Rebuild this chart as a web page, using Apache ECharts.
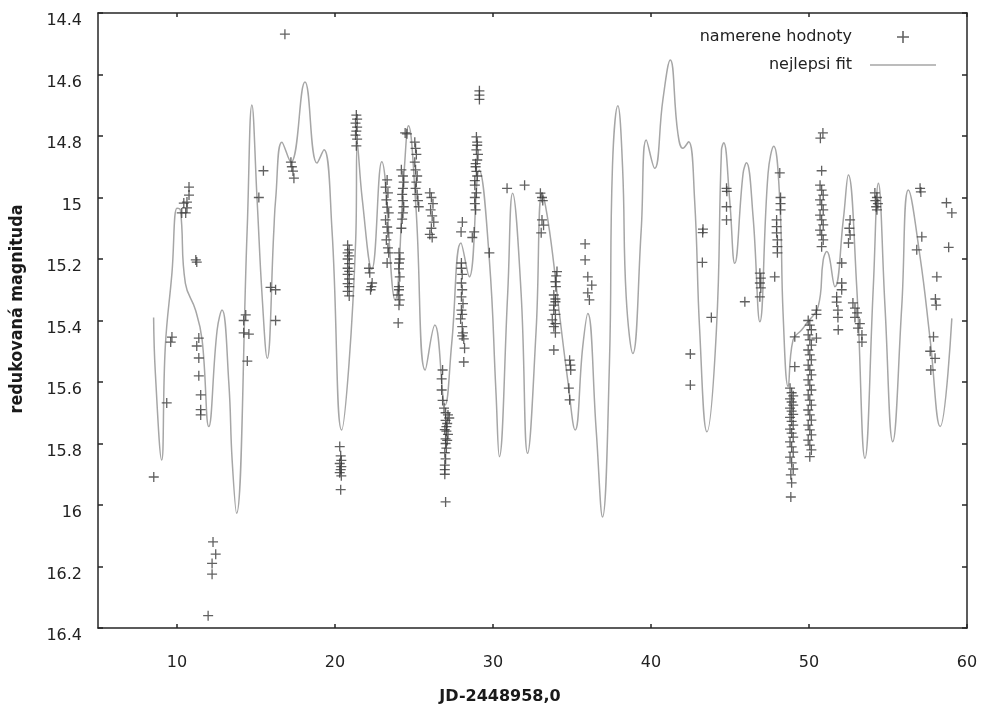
<!DOCTYPE html>
<html><head><meta charset="utf-8">
<script src="https://cdn.jsdelivr.net/npm/echarts@6/dist/echarts.min.js"></script>
<style>html,body{margin:0;padding:0;background:#fff}#c{width:983px;height:711px}</style>
</head><body><div id="c"></div>
<script>
// tick labels
const xTicks = [10, 20, 30, 40, 50, 60];
const yTicks = [14.4, 14.6, 14.8, 15, 15.2, 15.4, 15.6, 15.8, 16, 16.2, 16.4];

// best fit curve (nejlepsi fit)
const fitX = [8.52, 8.63, 9.03, 9.26, 9.68, 10.0, 10.22, 10.53, 11.17, 11.59, 12.01, 12.54, 12.85, 13.28, 13.49, 13.77,
  14.44, 14.74, 15.07, 15.39, 15.71, 16.13, 16.24, 16.64, 17.21, 18.10, 18.86, 19.30, 19.81, 20.42, 20.89, 21.31, 21.41,
  21.73, 22.33, 22.96, 23.80, 24.37, 24.65, 25.12, 25.71, 26.32, 26.97, 27.39, 27.97, 28.50, 29.13, 29.77, 30.19, 30.40,
  30.93, 31.24, 31.78, 32.19, 32.73, 33.11, 33.57, 34.20, 34.73, 35.20, 35.68, 36.00, 36.53, 36.93, 37.37, 37.56, 37.90,
  38.20, 38.43, 38.85, 39.38, 39.70, 40.23, 40.75, 41.22, 41.70, 42.02, 42.38, 42.76, 43.08, 43.54, 44.14, 44.46, 44.60,
  44.98, 45.30, 45.83, 46.04, 46.46, 46.89, 47.41, 47.77, 48.15, 48.36, 48.68, 48.99, 49.53, 49.85, 50.58, 50.90, 51.12,
  51.64, 52.17, 52.49, 53.02, 53.54, 54.07, 54.39, 54.81, 55.30, 55.87, 56.29, 57.03, 57.67, 58.30, 59.04];
const fitY = [15.39, 15.571, 15.854, 15.485, 15.246, 15.035, 15.041, 15.279, 15.366, 15.463, 15.745, 15.431, 15.366, 15.603, 15.854, 16.027,
  15.106, 14.699, 15.008, 15.323, 15.523, 15.106, 15.008, 14.82, 14.885, 14.624, 14.888, 14.845, 15.106, 15.756, 15.538, 15.138, 14.823,
  15.008, 15.233, 14.884, 15.333, 14.92, 14.767, 15.03, 15.561, 15.415, 15.675, 15.473, 15.148, 15.258, 14.911, 15.203, 15.636, 15.843,
  15.312, 14.986, 15.312, 15.832, 15.431, 14.985, 15.106, 15.376, 15.594, 15.756, 15.485, 15.377, 15.756, 16.039, 15.538, 14.901, 14.702,
  14.901, 15.323, 15.507, 15.106, 14.813, 14.905, 14.683, 14.553, 14.791, 14.84, 14.819, 15.008, 15.431, 15.762, 15.431, 14.846, 14.822,
  15.008, 15.214, 14.921, 14.887, 15.062, 15.404, 14.921, 14.833, 15.008, 15.377, 15.615, 15.463, 15.431, 15.409, 15.355, 15.203, 15.176,
  15.29, 15.073, 14.927, 15.29, 15.848, 15.29, 14.954, 15.355, 15.794, 15.355, 14.976, 15.193, 15.463, 15.745, 15.393];

const obsX = [8.53, 9.35, 9.6, 9.68,
  10.76, 10.76, 10.63, 10.43, 10.63, 10.3, 10.55, 11.19, 11.25,
  11.38, 11.25, 11.38, 11.38, 11.5, 11.5, 11.5,
  12.28, 12.45, 12.22, 12.22, 11.97,
  14.35, 14.22, 14.22, 14.55, 14.45, 15.18, 15.47, 15.92, 16.24, 16.24, 16.83,
  17.21, 17.27, 17.34, 17.4,
  20.3, 20.36, 20.4, 20.3, 20.4, 20.36, 20.3, 20.4, 20.36,
  20.8, 20.9, 20.8, 20.9, 20.8, 20.9, 20.8, 20.9, 20.8, 20.9, 20.8, 20.9, 20.8, 20.9,
  21.35, 21.4, 21.3, 21.4, 21.35, 21.3, 21.4, 21.35,
  22.15, 22.2, 22.35, 22.3, 22.25,
  23.3, 23.2, 23.35, 23.25, 23.3, 23.4, 23.2, 23.3, 23.35, 23.25, 23.35, 23.4, 23.3,
  24.2, 24.3, 24.35, 24.3, 24.25, 24.3, 24.35, 24.3, 24.25, 24.2,
  24.05, 24.1, 24.05, 24.1, 24.05, 24.05, 24.0, 24.1, 24.05, 24.0, 24.05,
  24.44, 24.55,
  25.05, 25.1, 25.15, 25.05, 25.1, 25.2, 25.15, 25.1, 25.2, 25.25, 25.3,
  26.0, 26.1, 26.2, 26.05, 26.15, 26.25, 26.1, 26.0, 26.15,
  26.81, 26.75, 26.75, 26.81, 26.9, 27.0, 27.15, 27.23, 27.0, 27.1, 27.05, 26.95, 27.05, 27.15, 27.0, 27.1, 27.0, 27.05, 26.95, 27.0, 26.95, 26.95, 26.95, 27.0,
  28.06, 27.98, 28.0, 28.0, 28.05, 28.0, 28.05, 28.0, 28.1, 28.0, 28.05, 27.95, 28.05, 28.1, 28.05, 28.15, 28.2, 28.15,
  28.95, 29.0, 29.0, 28.95, 29.05, 29.0, 28.9, 28.9, 28.95, 29.0, 28.85, 28.85, 28.95, 28.85, 28.85, 28.9, 28.81, 28.69,
  29.14, 29.14, 29.14, 29.77, 30.89, 32.0,
  33.0, 33.1, 33.15, 33.1, 33.2, 33.05,
  34.05, 34.0, 33.95, 33.98, 33.85, 33.95, 33.95, 33.85, 33.85, 33.95, 33.75, 33.95, 33.85, 33.95, 33.85,
  34.85, 34.9, 34.92, 34.8, 34.85,
  35.83, 35.83, 36.0, 36.25, 36.0, 36.1,
  42.49, 42.49, 43.29, 43.27, 43.25, 43.82,
  44.78, 44.8, 44.78, 44.78, 45.94,
  46.89, 46.95, 46.89, 46.95, 46.89, 47.83,
  48.15, 48.2, 48.2, 48.2, 47.95, 47.95, 47.95, 48.0, 48.0, 48.0,
  48.8, 48.9, 49.0, 48.8, 48.9, 49.0, 48.8, 48.9, 49.0, 48.8, 48.9, 49.0, 48.8, 48.9, 49.0, 48.8, 48.9, 49.0, 48.8, 48.9, 49.0, 48.85, 48.9, 48.85,
  49.95, 50.05, 50.15, 49.95, 50.05, 50.15, 49.95, 50.05, 50.15, 49.95, 50.05, 50.15, 49.95, 50.05, 50.15, 49.95, 50.05, 50.15, 49.95, 50.05, 50.15, 49.95, 50.05, 50.15, 49.95, 50.05, 50.15, 50.05,
  49.1, 49.1, 50.47, 50.47, 50.47,
  50.88, 50.72, 50.8, 50.7, 50.8, 50.9, 50.7, 50.8, 50.9, 50.7, 50.8, 50.9, 50.7, 50.8, 50.9, 50.8,
  52.07, 52.07, 52.07, 51.75, 51.75, 51.83, 51.83, 51.85,
  52.6, 52.55, 52.6, 52.5,
  52.78, 52.91, 53.04, 52.91, 53.22, 53.1, 53.35, 53.35,
  54.17, 54.3, 54.2, 54.36, 54.25, 54.3,
  57.03, 57.08, 57.14, 56.82, 58.7, 59.04, 58.84,
  58.09, 58.0, 58.05, 57.88, 57.67, 57.98, 57.71];
const obsY = [15.909, 15.668, 15.47, 15.454,
  14.966, 14.992, 15.015, 15.018, 15.034, 15.05, 15.05, 15.203, 15.21,
  15.457, 15.483, 15.522, 15.58, 15.642, 15.69, 15.707,
  16.12, 16.16, 16.19, 16.225, 16.36,
  15.382, 15.40, 15.44, 15.444, 15.532, 15.0, 14.913, 15.292, 15.3, 15.4, 14.469,
  14.885, 14.9, 14.914, 14.937,
  15.81, 15.84, 15.855, 15.865, 15.875, 15.885, 15.895, 15.905, 15.95,
  15.155, 15.17, 15.18, 15.19, 15.2, 15.215, 15.23, 15.24, 15.25, 15.265, 15.28, 15.29, 15.305, 15.32,
  14.732, 14.745, 14.758, 14.771, 14.784, 14.797, 14.81, 14.832,
  15.23, 15.245, 15.278, 15.29, 15.3,
  14.943, 14.966, 14.985, 15.008, 15.031, 15.05, 15.073, 15.096, 15.115, 15.138, 15.164, 15.18, 15.213,
  14.91, 14.93, 14.95, 14.97, 14.99, 15.01, 15.03, 15.05, 15.07, 15.1,
  15.18, 15.2, 15.232, 15.258, 15.29, 15.3, 15.317, 15.333, 15.35, 15.408, 15.213,
  14.79, 14.793,
  14.82, 14.84, 14.86, 14.885, 14.91, 14.93, 14.95, 14.97, 14.99, 15.01, 15.03,
  14.985, 15.0, 15.02, 15.04, 15.06, 15.08, 15.1, 15.12, 15.13,
  15.561, 15.59, 15.626, 15.66, 15.685, 15.7, 15.707, 15.717, 15.725, 15.735, 15.745, 15.755, 15.76, 15.77, 15.785, 15.79, 15.8, 15.815, 15.83, 15.85, 15.87, 15.885, 15.9, 15.99,
  15.08, 15.112, 15.213, 15.23, 15.25, 15.278, 15.3, 15.323, 15.345, 15.366, 15.38, 15.395, 15.42, 15.44, 15.45, 15.46, 15.49, 15.535,
  14.803, 14.82, 14.83, 14.845, 14.86, 14.878, 14.89, 14.9, 14.915, 14.93, 14.945, 14.96, 14.985, 15.0, 15.02, 15.04, 15.112, 15.13,
  14.653, 14.667, 14.681, 15.18, 14.97, 14.96,
  14.986, 15.0, 15.01, 15.073, 15.09, 15.115,
  15.241, 15.255, 15.274, 15.29, 15.317, 15.33, 15.339, 15.35, 15.366, 15.38, 15.398, 15.41, 15.42, 15.44, 15.496,
  15.529, 15.545, 15.561, 15.62, 15.658,
  15.151, 15.203, 15.258, 15.285, 15.31, 15.333,
  15.509, 15.61, 15.103, 15.114, 15.211, 15.39,
  14.97, 14.98, 15.03, 15.073, 15.339,
  15.246, 15.262, 15.278, 15.294, 15.323, 15.258,
  14.92, 15.0, 15.02, 15.04, 15.073, 15.095, 15.115, 15.138, 15.16, 15.18,
  15.62, 15.635, 15.645, 15.655, 15.665, 15.675, 15.685, 15.695, 15.705, 15.715, 15.728, 15.74, 15.753, 15.766, 15.779, 15.795, 15.811, 15.828, 15.844, 15.863, 15.883, 15.902, 15.928, 15.974,
  15.4, 15.415, 15.43, 15.447, 15.463, 15.48, 15.496, 15.512, 15.528, 15.545, 15.561, 15.577, 15.593, 15.61, 15.626, 15.642, 15.659, 15.675, 15.691, 15.707, 15.724, 15.74, 15.756, 15.772, 15.789, 15.805, 15.821, 15.843,
  15.453, 15.55, 15.366, 15.38, 15.457,
  14.79, 14.807, 14.913, 14.96, 14.976, 14.992, 15.008, 15.024, 15.04, 15.057, 15.073, 15.089, 15.106, 15.122, 15.138, 15.16,
  15.213, 15.278, 15.3, 15.323, 15.34, 15.366, 15.39, 15.43,
  15.073, 15.1, 15.122, 15.148,
  15.343, 15.36, 15.375, 15.39, 15.41, 15.425, 15.447, 15.47,
  14.985, 15.0, 15.01, 15.02, 15.03, 15.04,
  14.97, 14.982, 15.128, 15.17, 15.017, 15.05, 15.162,
  15.258, 15.33, 15.35, 15.453, 15.5, 15.523, 15.561];

const seriesNames = ['namerene hodnoty', 'nejlepsi fit'];
const xTitle = 'JD-2448958,0';
const yTitle = 'redukovaná magnituda';

const FONT = 'DejaVu Sans';
const AXC = '#262626';
const FITC = '#a6a6a6';
const PLUS = 'path://M4.35,0H5.65V4.35H10V5.65H5.65V10H4.35V5.65H0V4.35H4.35Z';
const LINEICON = 'path://M0,0H66V1.4H0Z';

const obsData = obsX.map((x, i) => [x, obsY[i]]);
const fitData = fitX.map((x, i) => [x, fitY[i]]);

const axisLine = { show: true, lineStyle: { color: AXC, width: 1.5 } };
const labelStyle = { fontFamily: FONT, fontSize: 16, color: '#222' };

const chart = echarts.init(document.getElementById('c'), null, { renderer: 'canvas' });
chart.setOption({
  backgroundColor: '#ffffff',
  animation: false,
  grid: { left: 98, right: 16, top: 13, bottom: 83, containLabel: false },
  legend: {
    orient: 'vertical', right: 42, top: 24, align: 'right',
    itemWidth: 66, itemHeight: 12, itemGap: 12,
    textStyle: { fontFamily: FONT, fontSize: 16, color: '#222', padding: [0, 13, 0, 0] },
    data: [{ name: seriesNames[0], icon: PLUS }, { name: seriesNames[1], icon: LINEICON }]
  },
  xAxis: [
    { type: 'value', min: 5, max: 60, position: 'bottom', axisLine,
      splitLine: { show: false },
      axisTick: { inside: true, length: 4, customValues: xTicks, lineStyle: { color: AXC, width: 1.5 } },
      axisLabel: { customValues: xTicks, margin: 27, ...labelStyle } },
    { type: 'value', min: 5, max: 60, position: 'top', axisLine,
      splitLine: { show: false },
      axisTick: { inside: true, length: 4, customValues: xTicks, lineStyle: { color: AXC, width: 1.5 } },
      axisLabel: { show: false } }
  ],
  yAxis: [
    { type: 'value', inverse: true, min: 14.4, max: 16.4, interval: 0.2, position: 'left', axisLine,
      splitLine: { show: false },
      axisTick: { inside: true, length: 5, lineStyle: { color: AXC, width: 1.5 } },
      axisLabel: { margin: 16, verticalAlign: 'top', lineHeight: 16, formatter: v => String(+(+v).toFixed(1)), ...labelStyle } },
    { type: 'value', inverse: true, min: 14.4, max: 16.4, interval: 0.2, position: 'right', axisLine,
      splitLine: { show: false },
      axisTick: { inside: true, length: 5, lineStyle: { color: AXC, width: 1.5 } },
      axisLabel: { show: false } }
  ],
  graphic: [
    { type: 'text', x: 500, y: 697, style: { text: xTitle, font: 'bold 16px "DejaVu Sans"', fill: '#1a1a1a', align: 'center', verticalAlign: 'middle' } },
    { type: 'text', x: 17, y: 309, rotation: Math.PI / 2, scaleY: 1.12, style: { text: yTitle, font: 'bold 16px "DejaVu Sans"', fill: '#1a1a1a', align: 'center', verticalAlign: 'middle' } }
  ],
  series: [
    { name: seriesNames[1], type: 'line', data: fitData, xAxisIndex: 0, yAxisIndex: 0,
      symbol: 'none', showSymbol: false, smooth: 0.45,
      lineStyle: { color: FITC, width: 1.5 }, itemStyle: { color: FITC }, z: 2 },
    { name: seriesNames[0], type: 'scatter', data: obsData, xAxisIndex: 0, yAxisIndex: 0,
      symbol: PLUS, symbolSize: 10, itemStyle: { color: '#3a3a3a' }, z: 3 }
  ]
});
</script>
</body></html>
